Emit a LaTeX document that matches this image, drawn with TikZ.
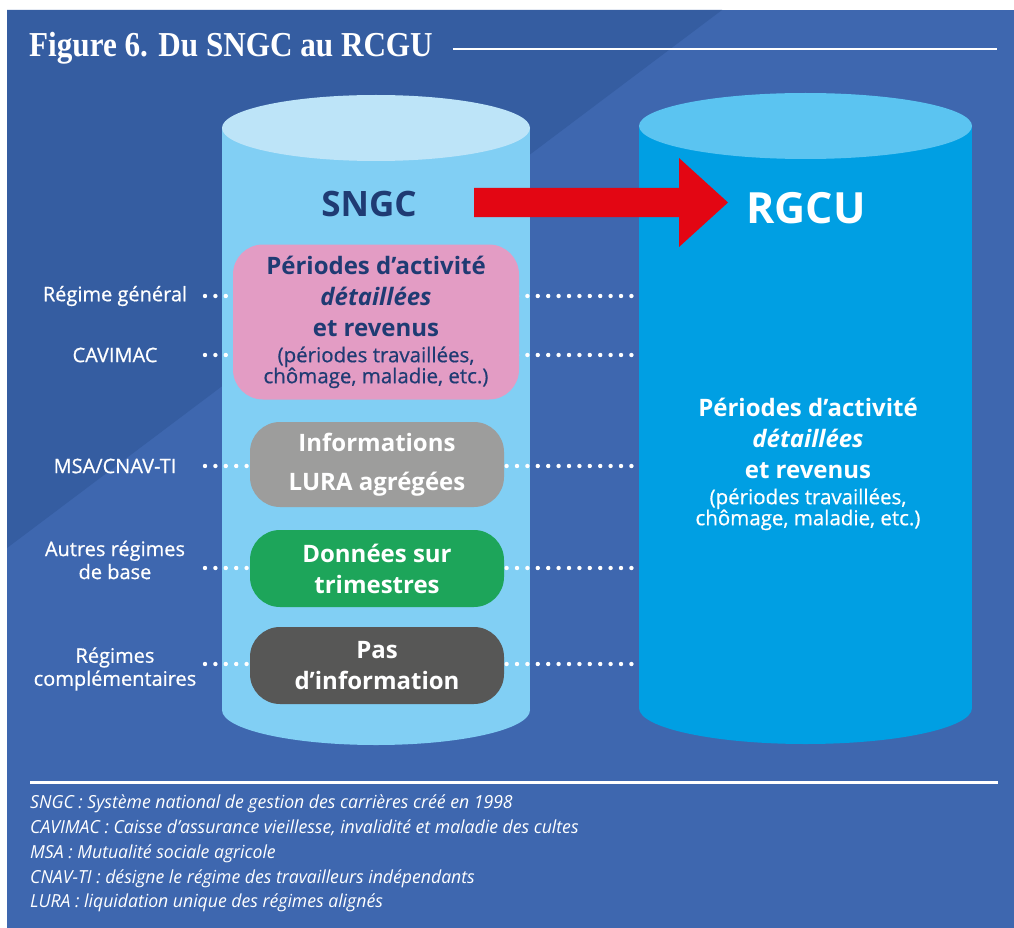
\documentclass[tikz,border=0pt]{standalone}
\usepackage{fontspec}
\setmainfont{Open Sans}
\newfontfamily\titlefont[FakeStretch=0.89]{Liberation Serif}
\newfontfamily\notefont[FakeStretch=0.98]{Open Sans}
\newfontfamily\semifont[FakeBold=0.6]{Open Sans}
\usetikzlibrary{positioning}

\definecolor{panel-dark}{HTML}{355DA1}
\definecolor{panel-light}{HTML}{3E67AF}
\definecolor{sngc-top}{HTML}{BDE4F8}
\definecolor{sngc-body}{HTML}{81CFF4}
\definecolor{rgcu-top}{HTML}{5BC4F1}
\definecolor{rgcu-body}{HTML}{009FE3}
\definecolor{navy}{HTML}{1F3B73}
\definecolor{pink-box}{HTML}{E39CC4}
\definecolor{grey-box}{HTML}{9D9D9C}
\definecolor{green-box}{HTML}{1DA55A}
\definecolor{dark-box}{HTML}{575756}
\definecolor{arrow-red}{HTML}{E30613}

\begin{document}
\begin{tikzpicture}[x=1pt, y=-1pt,
regime/.style={text=white, align=center, inner sep=0pt, font=\semifont\fontsize{20}{23}\selectfont},
box/.style={rectangle, rounded corners=30pt, align=center, text=white,
minimum width=254pt, font=\bfseries\fontsize{24}{31}\selectfont},
box-big/.style={box, text=navy, fill=pink-box, minimum width=286pt, minimum height=155pt},
dotline/.style={white, line width=4.4pt, line cap=round, dash pattern=on 0pt off 10.4pt},
rule/.style={white, line width=2.5pt}
]

% background
\useasboundingbox (0,0) rectangle (1014,928);
\fill [white] (0,0) rectangle (1014,928);
\fill [panel-light] (7,10) rectangle (1014,928);
\fill [panel-dark] (7,10) -- (722,10) -- (7,548) -- cycle;

% title
\node [anchor=west, text=white, inner sep=0pt, font=\titlefont\bfseries\fontsize{35}{40}\selectfont] (title) at (29,48) {Figure 6. Du SNGC au RCGU};
\coordinate (title-end) at (997,49);
\draw [rule] ([xshift=20pt]title.east |- title-end) -- (title-end);

% cylinders
\fill [sngc-body] (222,128) rectangle (530,710);
\fill [sngc-body] (376,710) ellipse [x radius=154, y radius=35];
\fill [sngc-top] (376,128) ellipse [x radius=154, y radius=33];
\fill [rgcu-body] (639,126) rectangle (972,708);
\fill [rgcu-body] (805.5,708) ellipse [x radius=166.5, y radius=36];
\fill [rgcu-top] (805.5,126) ellipse [x radius=166.5, y radius=33];
\coordinate (rgcu-w) at (639,126);
\coordinate (dots-start) at (205,0);

\node [text=navy, font=\bfseries\fontsize{35}{40}\selectfont] (sngc) at (369,204) {SNGC};
\node [text=white, font=\bfseries\fontsize{43}{48}\selectfont] (rgcu) at (806,208) {RGCU};
\fill [arrow-red] (474,188) -- (679,188) -- (679,158) -- (728,202.5) -- (679,247) -- (679,217) -- (474,217) -- cycle;

% source labels
\node [regime] (rg) at (115,296) {Régime général};
\node [regime] (cavimac) at (115,355) {CAVIMAC};
\node [regime] (msa) at (115,466) {MSA/CNAV-TI};
\node [regime] (autres) at (115,560) {Autres régimes\\de base};
\node [regime] (compl) at (115,669) {Régimes\\complémentaires};
\coordinate (row-autres) at (205,568);
\coordinate (row-compl) at (205,664);

% dotted links
\draw [dotline] (dots-start |- rg) -- (rgcu-w |- rg);
\draw [dotline] (dots-start |- cavimac) -- (rgcu-w |- cavimac);
\draw [dotline] (dots-start |- msa) -- (rgcu-w |- msa);
\draw [dotline] (row-autres) -- (rgcu-w |- row-autres);
\draw [dotline] (row-compl) -- (rgcu-w |- row-compl);

% boxes
\node [box-big] (activite) at (376,322) {Périodes d’activité\\ \textit{détaillées}\\ et revenus\\[-5pt]
{\semifont\mdseries\fontsize{20.5}{21}\selectfont (périodes travaillées,}\\[-10pt]
{\semifont\mdseries\fontsize{20.5}{21}\selectfont chômage, maladie, etc.)}};
\node [box, fill=grey-box, minimum height=85pt, font=\bfseries\fontsize{24}{39}\selectfont] (lura) at (377,464.5) {Informations\\LURA agrégées};
\node [box, fill=green-box, minimum height=77pt] (trim) at (377,568.5) {Données sur\\trimestres};
\node [box, fill=dark-box, minimum height=77pt] (pasinfo) at (377,665.5) {Pas\\d’information};

% RGCU contents
\node [text=white, align=center, font=\bfseries\fontsize{24}{31}\selectfont] (rgcu-text) at (808,464) {Périodes d’activité\\ \textit{détaillées}\\ et revenus\\[-5pt]
{\semifont\mdseries\fontsize{20.5}{21}\selectfont (périodes travaillées,}\\[-10pt]
{\semifont\mdseries\fontsize{20.5}{21}\selectfont chômage, maladie, etc.)}};

% notes
\draw [line width=3pt, white] (30,782) -- (998,782);
\node [anchor=north west, text=white, align=left, inner sep=0pt, font=\notefont\itshape\fontsize{18}{24.7}\selectfont] (notes) at (30,795) {SNGC : Système national de gestion des carrières créé en 1998\\
CAVIMAC : Caisse d’assurance vieillesse, invalidité et maladie des cultes\\
MSA : Mutualité sociale agricole\\
CNAV-TI : désigne le régime des travailleurs indépendants\\
LURA : liquidation unique des régimes alignés};

\end{tikzpicture}
\end{document}
